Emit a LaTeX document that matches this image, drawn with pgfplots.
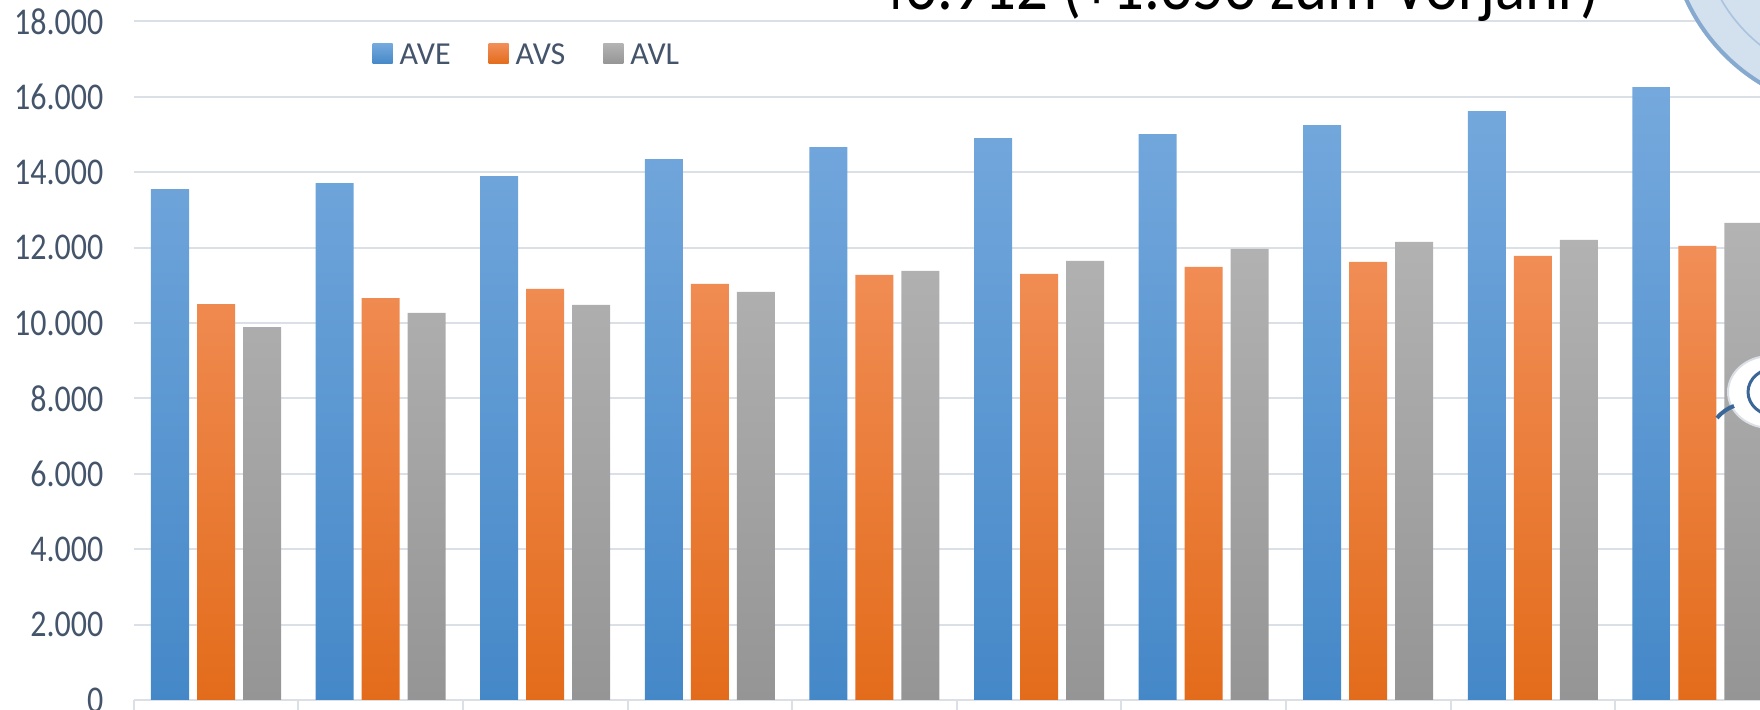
\documentclass[border=0pt]{standalone}
\usepackage{fontspec}
\setmainfont{Carlito}
\usepackage{pgfplots}
\usepackage{pgfplotstable}
\pgfplotsset{compat=1.18}
\definecolor{gridc}{HTML}{DBE0E7}
\definecolor{textc}{HTML}{44546A}
\definecolor{blueT}{HTML}{75A9DD}
\definecolor{blueB}{HTML}{4588C8}
\definecolor{oranT}{HTML}{F18E57}
\definecolor{oranB}{HTML}{E36C1B}
\definecolor{grayT}{HTML}{B3B3B3}
\definecolor{grayB}{HTML}{959595}
\definecolor{sealfill}{HTML}{D3E0EE}
\definecolor{sealring}{HTML}{86A9D0}
\definecolor{logoblue}{HTML}{3A6797}
\pgfplotsset{mylegend/.style={legend image code/.code={\path[##1,draw=none] (0pt,-3.9pt) rectangle (10pt,6.1pt);}}}
\pgfplotstableread{
x AVE AVS AVL
0 13550 10500 9890
1 13710 10660 10265
2 13895 10900 10477
3 14345 11034 10822
4 14663 11272 11378
5 14900 11299 11643
6 15007 11484 11961
7 15246 11617 12150
8 15620 11776 12203
9 16256 12044 12654
}\datatable
\begin{document}
\begin{tikzpicture}[x=1pt,y=1pt]
\begin{scope}
\clip (0,0) rectangle (880,355);
\begin{axis}[
  at={(66.85pt,5pt)}, anchor=south west,
  scale only axis, width=823pt, height=339.35pt,
  xmin=-0.5, xmax=9.5, ymin=0, ymax=18000,
  axis x line*=bottom, axis y line*=left,
  y axis line style={draw=none},
  x axis line style={draw=gridc, line width=1pt, -},
  xtick={-0.5,0.5,...,9.5}, xticklabels={},
  xtick style={draw=gridc, line width=1pt},
  tick align=outside, major tick length=5pt,
  ytick={0,2000,...,18000},
  ytick style={draw=none},
  scaled y ticks=false,
  ymajorgrids, grid style={draw=gridc, line width=1pt},
  yticklabel={\scalebox{1}[1.18]{\pgfmathprintnumber{\tick}}},
  yticklabel style={font=\fontsize{16}{19}\selectfont, text=textc, inner sep=0pt, xshift=-10pt},
  /pgf/number format/assume math mode=true,
  /pgf/number format/1000 sep={.},
  /pgf/number format/fixed,
  legend style={at={(0.14496,0.949)}, anchor=west, draw=none, fill=none, inner sep=0pt,
    font=\fontsize{16}{19}\selectfont, text=textc, legend columns=-1,
    nodes={inner sep=0pt, font=\fontsize{16}{19}\selectfont},
    /tikz/every odd column/.append style={column sep=3.5pt},
    /tikz/every even column/.append style={column sep=19pt}},
]
\addplot[ybar, bar width=19pt, bar shift=-23pt, draw=none, top color=blueT, bottom color=blueB, mylegend] table[x=x,y=AVE] {\datatable};
\addplot[ybar, bar width=19pt, bar shift=0pt, draw=none, top color=oranT, bottom color=oranB, mylegend] table[x=x,y=AVS] {\datatable};
\addplot[ybar, bar width=19pt, bar shift=23pt, draw=none, top color=grayT, bottom color=grayB, mylegend] table[x=x,y=AVL] {\datatable};
\legend{AVE,AVS,AVL}
\end{axis}
\node[anchor=base west, inner sep=0pt, font=\fontsize{31.4}{36}\selectfont] at (436.5,350) {\scalebox{1}[1.12]{46.912 (+1.353 zum Vorjahr)}};
\fill[sealfill] (930,395) circle (96.5);
\draw[sealring, line width=2pt] (930,395) circle (95.5);
\draw[sealring!70!white, line width=0.8pt] (930,395) circle (80);
\fill[white] (885,159) ellipse (21pt and 18pt);
\draw[gridc, line width=1pt] (885,159) ellipse (21pt and 18pt);
\draw[logoblue, line width=1.5pt] (888,159) ellipse (14pt and 12pt);
\draw[logoblue, line width=2pt] (858.5,146) .. controls (861,149) and (864,151) .. (867,152);
\end{scope}
\pgfresetboundingbox
\path[use as bounding box] (0,0) rectangle (880,355);
\end{tikzpicture}
\end{document}
